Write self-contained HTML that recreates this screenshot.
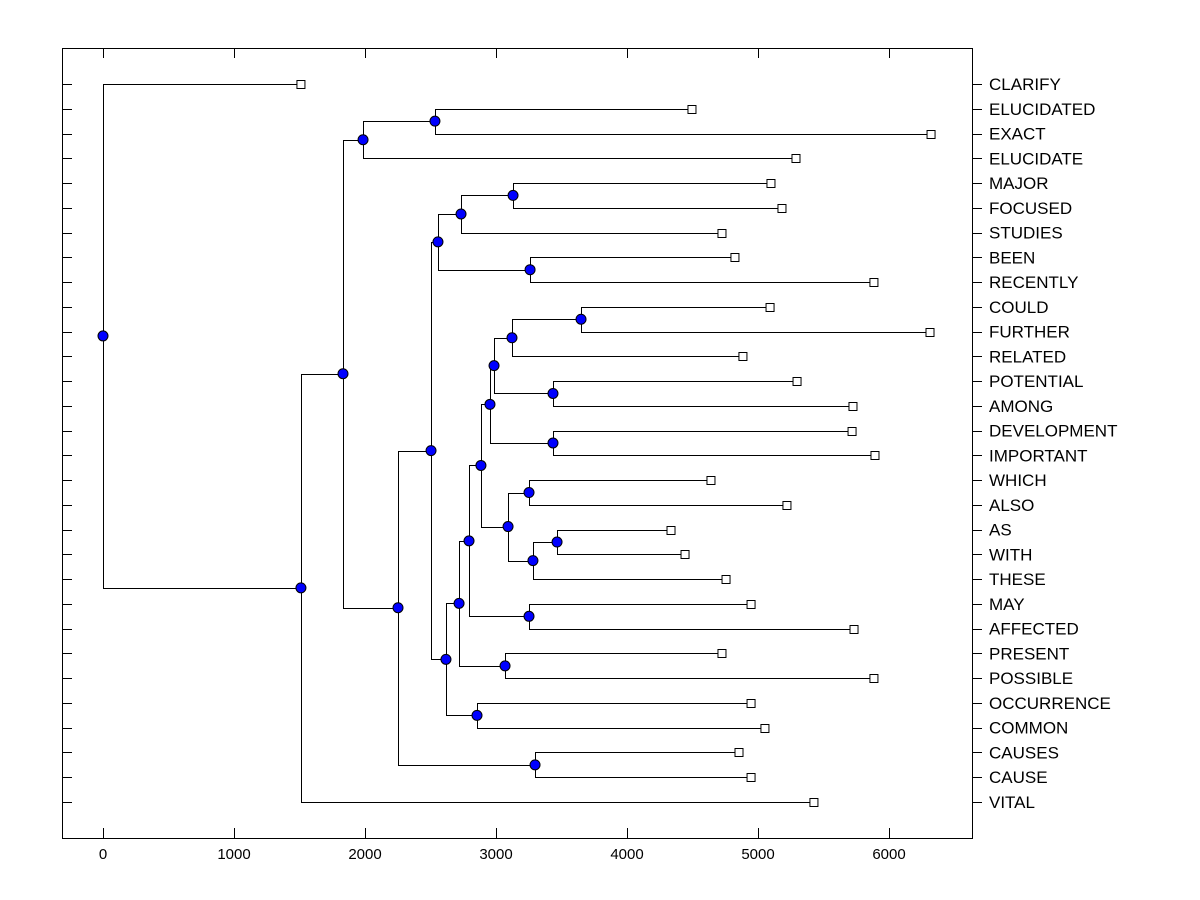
<!DOCTYPE html>
<html><head><meta charset="utf-8"><style>
html,body{margin:0;padding:0;background:#fff;}
svg{display:block;font-family:"Liberation Sans",Arial,sans-serif;}
</style></head><body>
<svg id="chart" width="1200" height="900" viewBox="0 0 1200 900">
<rect x="0" y="0" width="1200" height="900" fill="#fff"/>
<rect x="62.5" y="48.5" width="910" height="790" fill="none" stroke="#000" stroke-width="1"/>
<g id="ticks"></g>
<g id="tree"></g>
<g id="marks"></g>
</svg>
<script>
const labels = ["CLARIFY","ELUCIDATED","EXACT","ELUCIDATE","MAJOR","FOCUSED","STUDIES","BEEN","RECENTLY","COULD","FURTHER","RELATED","POTENTIAL","AMONG","DEVELOPMENT","IMPORTANT","WHICH","ALSO","AS","WITH","THESE","MAY","AFFECTED","PRESENT","POSSIBLE","OCCURRENCE","COMMON","CAUSES","CAUSE","VITAL"];
const leafValues = [1511,4496,6321,5290,5099,5183,4725,4824,5885,5092,6313,4885,5298,5725,5718,5893,4641,5221,4336,4443,4756,4947,5733,4725,5885,4947,5053,4855,4947,5427];
const xTicks = [0,1000,2000,3000,4000,5000,6000];
// merges: [childA, childB, height]; leaves are indices 0..29, merges become 30+
const merges = [
 [1,2,2534],      //30
 [30,3,1985],     //31
 [4,5,3130],      //32
 [32,6,2733],     //33
 [7,8,3260],      //34
 [33,34,2557],    //35
 [9,10,3649],     //36
 [36,11,3122],    //37
 [12,13,3435],    //38
 [37,38,2985],    //39
 [14,15,3435],    //40
 [39,40,2954],    //41
 [16,17,3252],    //42
 [18,19,3466],    //43
 [43,20,3282],    //44
 [42,44,3092],    //45
 [41,45,2885],    //46
 [21,22,3252],    //47
 [46,47,2794],    //48
 [23,24,3069],    //49
 [48,49,2718],    //50
 [25,26,2855],    //51
 [50,51,2618],    //52
 [35,52,2504],    //53
 [27,28,3298],    //54
 [53,54,2252],    //55
 [31,55,1832],    //56
 [56,29,1511],    //57
 [0,57,0]         //58
];
const NS="http://www.w3.org/2000/svg";
const X0=103, PX=0.1310, Y0=84, DY=(802-84)/29;
const sx=v=>X0+v*PX, sy=i=>Y0+i*DY;
function mk(tag,attrs,parent){const e=document.createElementNS(NS,tag);for(const k in attrs)e.setAttribute(k,attrs[k]);parent.appendChild(e);return e;}
const ticksG=document.getElementById('ticks'), treeG=document.getElementById('tree'), marksG=document.getElementById('marks');
xTicks.forEach(t=>{
 const x=Math.round(sx(t))+0.5;
 const a=mk('line',{x1:x,x2:x,y1:838,y2:828,stroke:'#000'},ticksG);
 
 
 const b=mk('line',{x1:x,x2:x,y1:49,y2:58,stroke:'#000'},ticksG);
 
 
 const tx=mk('text',{x:sx(t),y:859,'text-anchor':'middle','font-size':15,fill:'#000'},ticksG);
 tx.textContent=t;
 
 
});
labels.forEach((l,i)=>{
 const y=Math.round(sy(i))+0.5;
 const a=mk('line',{x1:62,x2:72,y1:y,y2:y,stroke:'#000'},ticksG);
 
 
 const b=mk('line',{x1:972,x2:982,y1:y,y2:y,stroke:'#000'},ticksG);
 
 
 const t=mk('text',{x:989,y:sy(i)+6,'font-size':17,fill:'#000'},ticksG);
 t.textContent=l;
 
 
});
const pos={};
leafValues.forEach((v,i)=>{pos[i]={x:sx(v),y:sy(i),leaf:true};});
merges.forEach((m,k)=>{
 const id=30+k, a=pos[m[0]], b=pos[m[1]], x=sx(m[2]);
 pos[id]={x:x,y:(a.y+b.y)/2,leaf:false};
 const p=mk('path',{d:`M${a.x} ${Math.round(a.y)+0.5}H${Math.round(x)+0.5}V${Math.round(b.y)+0.5}H${b.x}`,fill:'none',stroke:'#000','stroke-width':1},treeG);
 
 
});
Object.keys(pos).forEach(k=>{
 const p=pos[k];
 if(p.leaf){
  const r=mk('rect',{x:p.x-4,y:Math.round(p.y)-3.5,width:8,height:8,fill:'#fff',stroke:'#000'},marksG);
  
  
 }else{
  const c=mk('circle',{cx:p.x,cy:p.y,r:5,fill:'#0000ff',stroke:'#000','stroke-width':1},marksG);
  
  
 }
});
</script>
</body></html>
